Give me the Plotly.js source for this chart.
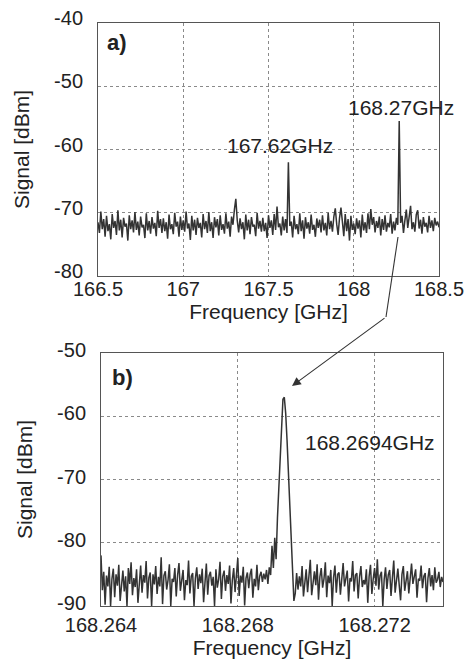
<!DOCTYPE html>
<html>
<head>
<meta charset="utf-8">
<script src="https://cdn.plot.ly/plotly-3.0.1.min.js"></script>
<style>html,body{margin:0;padding:0;background:#fff;}#chart{width:469px;height:662px;}</style>
</head>
<body>
<div id="chart"></div>
<script>
// ---- Panel a) wide span spectrum ----
const freqStartA = 166.5;   // GHz
const freqStopA = 168.5;    // GHz
const signalA = [
-71.5,-73.2,-69.8,-72.6,-71.0,-73.8,-70.5,-72.9,-71.8,-74.2,
-70.2,-72.4,-71.3,-73.5,-69.6,-72.8,-71.1,-73.9,-70.8,-72.2,
-71.7,-74.4,-70.4,-72.6,-71.2,-73.1,-69.9,-72.7,-71.4,-73.6,
-70.6,-72.3,-71.9,-74.0,-70.1,-72.8,-71.3,-73.3,-70.7,-72.5,
-71.6,-73.7,-69.7,-72.4,-71.0,-73.2,-70.9,-72.9,-71.5,-74.1,
-70.3,-72.6,-71.8,-73.4,-70.0,-72.2,-71.4,-73.8,-70.6,-72.7,
-71.2,-73.0,-69.8,-72.5,-71.7,-74.3,-70.5,-72.8,-71.1,-73.5,
-70.8,-72.4,-71.6,-73.9,-70.2,-72.6,-71.3,-73.2,-69.9,-72.9,
-71.5,-74.0,-70.7,-72.3,-71.0,-73.6,-70.4,-72.7,-71.8,-73.3,
-70.1,-72.5,-71.4,-73.8,-70.6,-71.9,-69.5,-67.8,-71.2,-73.1,
-70.9,-72.6,-71.5,-74.2,-70.3,-72.8,-71.1,-73.4,-70.7,-72.2,
-71.9,-73.7,-70.0,-72.5,-71.3,-73.0,-70.8,-72.9,-71.6,-74.0,
-70.4,-72.4,-71.2,-73.5,-70.2,-72.7,-69.0,-72.3,-71.7,-73.6,
-70.6,-72.8,-71.0,-73.2,-62.0,-72.1,-71.4,-73.9,-70.5,-72.6,
-71.8,-73.4,-70.1,-72.9,-71.2,-74.1,-70.7,-72.5,-71.5,-73.3,
-70.3,-72.7,-71.9,-73.8,-70.9,-72.4,-71.1,-73.1,-70.4,-72.8,
-71.6,-73.6,-70.0,-72.6,-71.3,-73.0,-70.6,-69.3,-71.8,-73.5,
-70.8,-69.2,-71.4,-73.7,-70.2,-72.9,-71.0,-74.4,-70.5,-72.7,
-71.7,-73.4,-70.9,-72.5,-71.2,-73.9,-70.3,-72.8,-71.5,-73.2,
-70.1,-72.6,-69.4,-71.9,-70.7,-73.1,-71.3,-72.4,-70.6,-73.6,
-71.0,-72.7,-70.4,-73.0,-71.6,-72.3,-70.2,-73.3,-71.4,-72.8,
-70.8,-71.9,-55.5,-71.6,-70.5,-73.2,-71.2,-69.5,-72.4,-70.9,
-68.9,-72.6,-71.5,-73.0,-70.3,-69.6,-72.5,-71.1,-73.3,-70.7,
-72.2,-71.6,-73.1,-70.5,-72.4,-71.2,-72.9,-70.8,-72.0,-71.4,
-72.3
];
const xTicksA = [166.5, 167, 167.5, 168, 168.5];
const xTickTextA = ["166.5", "167", "167.5", "168", "168.5"];
const yTicksA = [-80, -70, -60, -50, -40];
const yTickTextA = ["-80", "-70", "-60", "-50", "-40"];

// ---- Panel b) zoomed spectrum ----
const freqStartB = 168.264;  // GHz
const freqStopB = 168.274;   // GHz
const signalB = [
-82.0,-87.5,-84.6,-89.8,-85.2,-86.9,-83.8,-90.0,-85.7,-84.1,
-88.6,-85.0,-86.8,-83.5,-89.2,-85.9,-84.4,-87.7,-85.3,-90.0,
-84.0,-86.5,-83.1,-88.3,-85.6,-87.0,-84.2,-89.5,-85.8,-83.6,
-87.9,-85.1,-86.3,-82.9,-88.8,-85.5,-84.7,-90.0,-85.0,-86.6,
-83.7,-88.1,-85.4,-86.9,-82.3,-89.7,-85.2,-84.5,-87.4,-85.9,
-83.4,-90.0,-85.7,-86.2,-84.0,-88.5,-85.1,-83.2,-87.6,-85.5,
-84.3,-89.1,-85.9,-86.7,-82.8,-88.0,-85.3,-84.8,-90.0,-85.6,
-83.9,-87.3,-85.0,-86.4,-84.1,-89.4,-85.7,-83.3,-88.2,-85.2,
-84.6,-86.8,-85.4,-90.0,-84.2,-87.1,-85.8,-83.0,-88.9,-85.3,
-84.4,-87.6,-85.1,-86.5,-83.6,-89.6,-85.9,-84.0,-87.8,-85.5,
-82.4,-88.4,-85.2,-86.3,-83.8,-89.9,-85.6,-84.7,-87.2,-85.0,
-84.1,-88.7,-85.7,-86.9,-83.5,-87.5,-85.3,-84.6,-86.2,-84.9,
-85.8,-84.3,-86.5,-83.9,-85.1,-80.5,-84.0,-79.2,-82.6,-76.0,
-71.5,-66.0,-61.0,-57.3,-57.0,-59.5,-63.8,-68.4,-73.5,-78.6,
-84.0,-89.2,-88.0,-84.8,-87.4,-85.3,-86.9,-83.7,-88.5,-85.6,
-84.2,-87.8,-85.0,-82.7,-88.3,-85.9,-84.5,-86.7,-83.4,-89.0,
-85.4,-84.0,-87.1,-85.7,-83.1,-88.6,-85.2,-86.4,-84.3,-90.0,
-85.5,-83.6,-87.9,-85.0,-84.7,-88.2,-85.8,-83.2,-86.9,-85.3,
-84.4,-89.3,-85.6,-86.1,-82.9,-87.7,-85.1,-84.8,-88.8,-85.4,
-83.7,-87.0,-85.9,-86.6,-84.2,-89.5,-85.3,-83.5,-88.1,-85.7,
-84.0,-86.8,-82.6,-87.4,-85.2,-84.6,-90.0,-85.8,-83.9,-87.3,
-85.1,-84.3,-88.4,-85.6,-82.8,-87.9,-85.4,-84.1,-86.7,-89.1,
-85.0,-83.7,-87.6,-85.5,-84.5,-88.0,-85.9,-83.3,-86.5,-85.2,
-84.2,-88.7,-85.7,-86.0,-83.6,-87.2,-85.3,-84.8,-89.4,-85.6,
-84.0,-86.9,-85.1,-87.5,-83.9,-86.3,-85.8,-84.6,-87.0,-85.4,
-86.2
];
const xTicksB = [168.264, 168.268, 168.272];
const xTickTextB = ["168.264", "168.268", "168.272"];
const yTicksB = [-90, -80, -70, -60, -50];
const yTickTextB = ["-90", "-80", "-70", "-60", "-50"];

// sample frequencies of the analyser sweep (evenly spaced between start and stop)
function sweep(start, stop, n) {
  const out = [];
  for (let i = 0; i < n; i++) out.push(start + (stop - start) * i / (n - 1));
  return out;
}
const freqA = sweep(freqStartA, freqStopA, signalA.length);
const freqB = sweep(freqStartB, freqStopB, signalB.length);

const W = 469, H = 662;
const px = v => v / W;
const py = v => 1 - v / H;

const FONT = "Liberation Sans, Arial, Helvetica, sans-serif";
const TXT = "#222";
const LINE = "#333";

const axisCommon = {
  showline: true, mirror: true, linecolor: "#555", linewidth: 1,
  showgrid: true, gridcolor: "#8a8a8a", griddash: "dot", gridwidth: 1,
  zeroline: false, ticks: "", automargin: false,
  tickfont: {family: FONT, size: 20, color: TXT},
  fixedrange: true
};
const titleFont = {family: FONT, size: 21, color: TXT};

const traces = [
  {x: freqA, y: signalA, type: "scatter", mode: "lines", xaxis: "x", yaxis: "y",
   line: {color: LINE, width: 1.5}, hoverinfo: "skip", showlegend: false},
  {x: freqB, y: signalB, type: "scatter", mode: "lines", xaxis: "x2", yaxis: "y2",
   line: {color: LINE, width: 1.5}, hoverinfo: "skip", showlegend: false}
];

const layout = {
  width: W, height: H,
  margin: {l: 0, r: 0, t: 0, b: 0},
  paper_bgcolor: "#fff", plot_bgcolor: "#fff",
  showlegend: false,
  font: {family: FONT, color: TXT},
  xaxis: Object.assign({}, axisCommon, {
    domain: [px(98), px(439)], anchor: "y", range: [freqStartA, freqStopA],
    tickmode: "array", tickvals: xTicksA, ticktext: xTickTextA, ticklabelstandoff: -5,
    title: {text: "Frequency [GHz]", font: titleFont, standoff: 0}
  }),
  yaxis: Object.assign({}, axisCommon, {
    domain: [py(276), py(23)], anchor: "x", range: [-80, -40],
    tickmode: "array", tickvals: yTicksA, ticktext: yTickTextA,
    ticklabelstandoff: 10, ticklabelshift: -5,
    title: {text: "Signal [dBm]", font: titleFont, standoff: 18}
  }),
  xaxis2: Object.assign({}, axisCommon, {
    domain: [px(101), px(443)], anchor: "y2", range: [freqStartB, freqStopB],
    tickmode: "array", tickvals: xTicksB, ticktext: xTickTextB, ticklabelstandoff: 1,
    title: {text: "Frequency [GHz]", font: titleFont, standoff: 4}
  }),
  yaxis2: Object.assign({}, axisCommon, {
    domain: [py(606), py(353)], anchor: "x2", range: [-90, -50],
    tickmode: "array", tickvals: yTicksB, ticktext: yTickTextB,
    ticklabelstandoff: 10, ticklabelshift: -3,
    title: {text: "Signal [dBm]", font: titleFont, standoff: 18}
  }),
  annotations: [
    {text: "<b>a)</b>", xref: "paper", yref: "paper", x: px(117), y: py(43),
     xanchor: "center", yanchor: "middle",
     showarrow: false, font: {family: FONT, size: 22, color: TXT}},
    {text: "<b>b)</b>", xref: "paper", yref: "paper", x: px(122), y: py(377),
     xanchor: "center", yanchor: "middle",
     showarrow: false, font: {family: FONT, size: 22, color: TXT}},
    {text: "168.27GHz", xref: "paper", yref: "paper", x: px(401), y: py(108),
     xanchor: "center", yanchor: "middle",
     showarrow: false, font: {family: FONT, size: 21, color: TXT}},
    {text: "167.62GHz", xref: "paper", yref: "paper", x: px(280), y: py(145),
     xanchor: "center", yanchor: "middle",
     showarrow: false, font: {family: FONT, size: 21, color: TXT}},
    {text: "168.2694GHz", xref: "paper", yref: "paper", x: px(370), y: py(442),
     xanchor: "center", yanchor: "middle",
     showarrow: false, font: {family: FONT, size: 21, color: TXT}},
    {text: "", xref: "paper", yref: "paper", x: px(292), y: py(386),
     showarrow: true, axref: "pixel", ayref: "pixel", ax: 94, ay: -69,
     arrowhead: 2, arrowsize: 1.6, arrowwidth: 1.1, arrowcolor: "#333", standoff: 0}
  ],
  shapes: [
    {type: "line", xref: "paper", yref: "paper",
     x0: px(398), y0: py(237), x1: px(386), y1: py(317),
     line: {color: "#333", width: 1.1}}
  ]
};

Plotly.newPlot("chart", traces, layout, {staticPlot: true, displayModeBar: false});
</script>
</body>
</html>
